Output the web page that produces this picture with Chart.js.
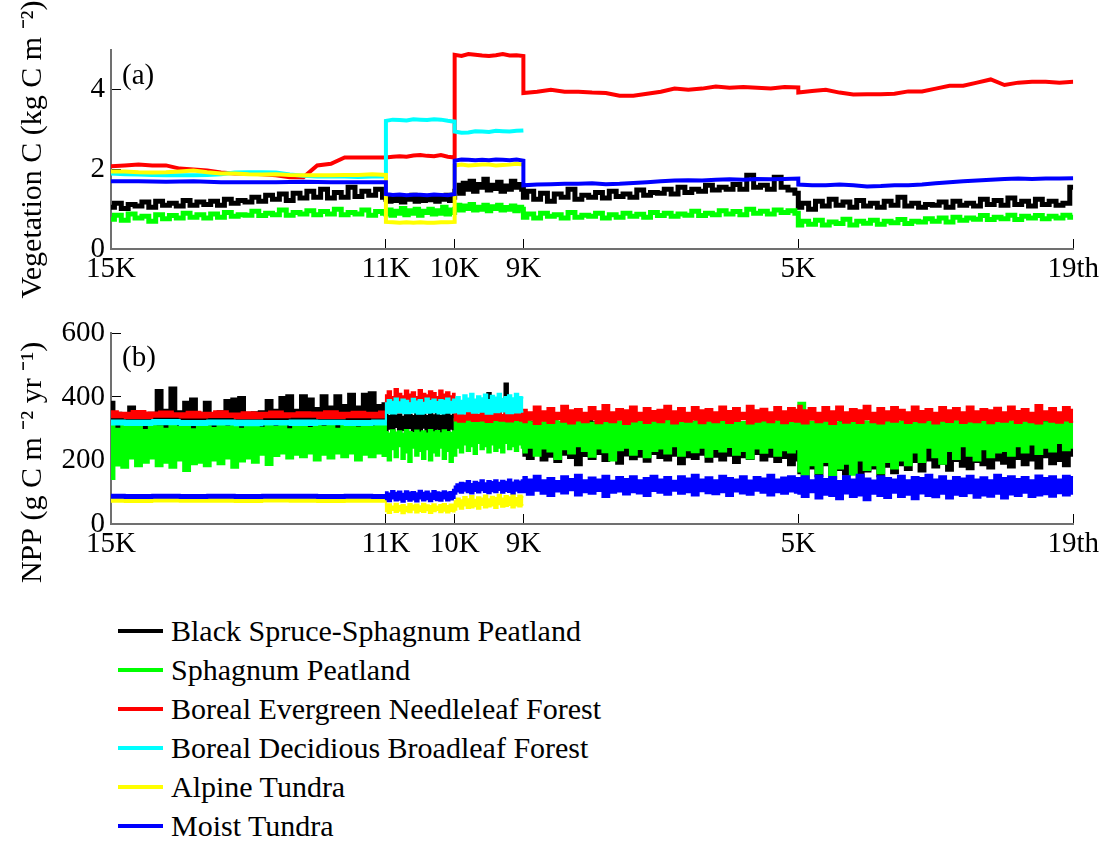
<!DOCTYPE html>
<html>
<head>
<meta charset="utf-8">
<script src="https://cdn.jsdelivr.net/npm/chart.js@4.4.0/dist/chart.umd.min.js"></script>
<style>
html,body{margin:0;padding:0;background:#fff;}
#wrap{position:relative;width:1112px;height:845px;overflow:hidden;font-family:'Liberation Serif','Times New Roman',serif;}
#ca{position:absolute;left:0;top:0;}
#cb{position:absolute;left:0;top:300px;}
#legend{position:absolute;left:118px;top:611px;}
.row{display:flex;align-items:center;height:39px;font-size:30px;line-height:39px;color:#000;white-space:nowrap;}
.sw{width:45px;height:4px;margin-right:8px;}
</style>
</head>
<body>
<div id="wrap">
<canvas id="ca" width="1112" height="300"></canvas>
<canvas id="cb" width="1112" height="300"></canvas>
<div id="legend"></div>
</div>
<script>
// ---------- labels / ticks ----------
const seriesNames = ['Black Spruce-Sphagnum Peatland','Sphagnum Peatland','Boreal Evergreen Needleleaf Forest','Boreal Decidious Broadleaf Forest','Alpine Tundra','Moist Tundra'];
const seriesColors = ['#000000','#00ff00','#ff0000','#00ffff','#ffff00','#0000ff'];
const eraBounds = [15, 11, 10, 9, 5, 1];          // kyr BP, era boundaries
const xTickValues = [15, 11, 10, 9, 5, 1];
const xTickLabels = ['15K','11K','10K','9K','5K','19th'];
const vegTicks = [0, 2, 4];
const nppTicks = [0, 200, 400, 600];
const vegTitle = 'Vegetation C (kg C m \u207B\u00B2)';
const nppTitle = 'NPP (g C m \u207B\u00B2 yr \u207B\u00B9)         ';

// ---------- (a) Vegetation C, kg C m-2 : one array per era (15-11K, 11-10K, 10-9K, 9-5K, 5K-19th) ----------
const vegBlack = [
 [1.05,1.15,1.02,1.12,1.08,1.18,1.05,1.2,1.1,1.15, 1.08,1.22,1.1,1.18,1.12,1.2,1.1,1.25,1.15,1.22, 1.18,1.3,1.2,1.35,1.25,1.38,1.22,1.4,1.28,1.45, 1.3,1.5,1.28,1.42,1.3,1.55,1.32,1.45,1.35,1.5,1.3],
 [1.25,1.2,1.32,1.22,1.28,1.18,1.3,1.25,1.35,1.2,1.28,1.22,1.3,1.24,1.33,1.2,1.28,1.25,1.35,1.22,1.3],
 [1.45,1.6,1.4,1.65,1.5,1.7,1.45,1.62,1.55,1.75,1.48,1.6,1.52,1.68,1.45,1.58,1.5,1.7,1.55,1.62,1.5],
 [1.3,1.45,1.25,1.4,1.2,1.38,1.3,1.5,1.25,1.35, 1.3,1.42,1.28,1.45,1.32,1.38,1.3,1.48,1.35,1.42, 1.4,1.5,1.38,1.55,1.42,1.5,1.45,1.6,1.48,1.55, 1.5,1.62,1.5,1.85,1.55,1.6,1.5,1.8,1.55,1.48,1.4],
 [1.05,1.15,1.0,1.2,1.08,1.25,1.1,1.18,1.05,1.22, 1.08,1.15,1.05,1.2,1.1,1.3,1.08,1.15,1.05,1.12, 1.1,1.18,1.05,1.2,1.1,1.15,1.08,1.25,1.12,1.22, 1.1,1.28,1.12,1.2,1.08,1.25,1.12,1.2,1.1,1.15,1.55]
];
const vegGreen = [
 [0.75,0.85,0.72,0.88,0.78,0.82,0.7,0.86,0.76,0.84, 0.78,0.9,0.8,0.86,0.78,0.88,0.8,0.92,0.82,0.86, 0.85,0.95,0.84,0.9,0.86,0.98,0.85,0.92,0.88,0.96, 0.86,0.94,0.88,1.0,0.86,0.92,0.88,0.98,0.85,0.94,0.9],
 [0.88,0.98,0.85,0.95,0.9,1.02,0.86,0.96,0.9,1.0,0.85,0.95,0.92,1.0,0.88,0.96,0.9,1.05,0.88,0.98,0.92],
 [1.0,1.1,0.98,1.08,1.02,1.12,0.98,1.05,1.0,1.1,0.96,1.06,1.02,1.1,0.98,1.04,1.0,1.08,0.96,1.05,1.0],
 [0.8,0.88,0.78,0.9,0.82,0.86,0.78,0.92,0.8,0.85, 0.82,0.9,0.78,0.86,0.8,0.9,0.82,0.87,0.8,0.92, 0.84,0.9,0.82,0.88,0.85,0.95,0.84,0.9,0.86,0.96, 0.88,0.94,0.86,1.0,0.9,0.95,0.88,0.98,0.92,0.96,0.9],
 [0.6,0.7,0.62,0.72,0.6,0.68,0.64,0.75,0.6,0.7, 0.65,0.72,0.62,0.7,0.66,0.74,0.64,0.7,0.68,0.76, 0.7,0.78,0.68,0.8,0.72,0.78,0.75,0.84,0.74,0.8, 0.76,0.85,0.74,0.82,0.78,0.84,0.76,0.82,0.78,0.85,0.8]
];
const vegRed = [
 [2.08,2.1,2.12,2.1,2.1,2.02,2.0,1.97,1.92,1.9,1.9,1.88,1.85,1.8,1.8,2.1,2.14,2.3,2.3,2.3,2.3],
 [2.3,2.32,2.33,2.32,2.35,2.36,2.34,2.33,2.36,2.32,2.3],
 [4.88,4.85,4.9,4.88,4.86,4.85,4.87,4.9,4.86,4.87,4.85],
 [3.92,3.95,4.0,3.95,3.95,3.93,3.92,3.85,3.85,3.9,3.95,4.03,4.0,4.03,4.08,4.05,4.07,4.05,4.03,4.07,4.06],
 [3.93,3.97,4.0,3.93,3.88,3.89,3.89,3.9,3.96,3.96,4.03,4.1,4.1,4.18,4.26,4.12,4.18,4.2,4.2,4.18,4.2]
];
const vegCyan = [
 [1.9,1.88,1.87,1.86,1.85,1.85,1.85,1.86,1.88,1.92,1.93,1.93,1.92,1.87,1.84,1.82,1.82,1.82,1.81,1.82,1.82],
 [3.22,3.25,3.24,3.23,3.26,3.25,3.24,3.26,3.25,3.22,3.2],
 [2.95,2.92,2.93,2.96,2.95,2.94,2.97,2.96,2.95,2.97,2.98],
 null,
 null
];
const vegYellow = [
 [1.95,1.95,1.93,1.92,1.93,1.95,1.97,1.93,1.9,1.9,1.88,1.87,1.88,1.86,1.85,1.85,1.85,1.86,1.86,1.88,1.86],
 [0.68,0.67,0.66,0.67,0.66,0.67,0.66,0.66,0.67,0.67,0.68],
 [2.1,2.12,2.1,2.11,2.12,2.12,2.1,2.11,2.12,2.14,2.12],
 null,
 null
];
const vegBlue = [
 [1.7,1.7,1.69,1.7,1.68,1.68,1.68,1.69,1.68,1.68,1.68],
 [1.38,1.36,1.37,1.35,1.36,1.36,1.35,1.37,1.36,1.35,1.38],
 [2.22,2.25,2.24,2.23,2.24,2.23,2.25,2.24,2.23,2.25,2.22],
 [1.6,1.62,1.63,1.64,1.64,1.65,1.63,1.64,1.66,1.68,1.7,1.72,1.73,1.72,1.74,1.75,1.74,1.76,1.75,1.76,1.77],
 [1.62,1.6,1.6,1.62,1.6,1.57,1.58,1.6,1.6,1.62,1.65,1.68,1.7,1.72,1.74,1.76,1.77,1.76,1.77,1.77,1.78]
];

// ---------- (b) NPP, g C m-2 yr-1 : upper and lower edge of each noisy band, per era ----------
const nppBlackHi = [
 [385,350,345,370,345,348,350,422,360,430, 355,385,395,350,385,348,355,390,395,400, 350,352,355,390,360,400,405,360,405,395, 365,405,370,405,375,410,370,410,415,375,380],
 [345,340,348,342,345,338,346,344,340,347,343,345,340,348,342,346,340,344,347,341,345],
 [335,338,332,340,336,345,338,340,336,338,412,340,335,338,340,442,336,342,338,335,340],
 [322,318,325,320,318,322,320,324,319,321,320],
 [320,318,322,319,321,320,323,318,320,322,321]
];
const nppBlackLo = [
 [295,285,300,290,283,296,288,292,285,298, 290,286,295,283,292,300,288,294,286,296, 290,292,285,298,290,288,295,286,292,290, 296,288,294,285,292,290,297,288,294,290,292],
 [292,300,288,305,290,296,285,302,291,298,287,303,290,295,286,300,289,297,292,300,295],
 [265,270,262,268,265,270,264,268,266,270,268],
 [215,205,220,200,212,195,218,208,185,214, 205,220,198,210,190,216,204,212,196,220, 208,200,215,188,210,205,218,196,212,200, 215,192,210,205,220,200,212,195,208,185,200],
 [160,140,175,150,185,135,170,155,180,145, 165,175,150,180,160,185,170,195,165,200, 178,190,168,198,180,172,195,185,175,200, 190,178,205,185,200,175,210,188,198,182,215]
];
const nppGreenHi = [
 [310,300,315,305,312,296,316,308,300,314, 305,312,298,315,308,302,316,306,312,300, 314,308,303,316,305,312,298,314,307,302, 315,306,312,300,316,308,304,314,306,312,310],
 [290,285,295,288,292,284,296,290,286,294,288,292,285,296,289,293,286,295,290,287,292],
 [330,325,332,328,326,333,327,330,325,332,328,331,326,330,327,333,325,330,328,331,329],
 [325,320,328,322,326,319,327,323,325,321,328,324,320,326,322,327,321,325,323,326,324],
 [382,322,327,320,326,323,328,321,325,320,327,324,322,326,321,328,323,325,320,326,324]
];
const nppGreenLo = [
 [142,184,177,206,182,193,206,182,193,177, 200,167,188,193,182,200,188,206,177,197, 206,193,218,186,214,222,206,218,210,222, 200,218,206,222,210,222,200,218,210,222,214],
 [220,200,235,210,245,205,225,195,240,215,230,205,235,200,225,215,240,205,230,195,215],
 [215,240,225,250,230,245,220,255,235,245,225,250,230,240,225,255,235,245,230,250,240],
 [225,240,215,238,228,205,235,222,245,230, 212,238,226,200,232,240,218,236,210,230, 238,222,245,215,232,226,240,212,236,228, 242,218,230,206,238,224,240,215,232,225,235],
 [165,150,185,160,195,145,175,190,155,200, 170,185,160,195,175,200,185,225,195,240, 210,190,230,205,245,215,200,235,210,225, 230,215,245,225,250,220,240,228,255,232,240]
];
const nppRedHi = [
 [355,350,356,351,354,349,353,350,355,348,352,350,354,349,352,351,355,350,353,350,354],
 [405,418,400,425,410,402,420,408,415,400,422,410,405,418,412,400,420,408,415,402,410],
 [350,345,358,342,352,348,355,344,350,356,346,352,348,355,343,350,357,347,352,348,355],
 [360,352,370,355,365,350,372,358,362,350, 368,355,375,352,362,358,370,350,365,356, 360,372,355,365,350,368,358,362,352,370, 356,365,350,372,358,363,352,368,355,365,360],
 [372,358,365,350,368,355,370,352,362,358, 372,350,365,355,368,360,352,370,356,362, 350,368,358,365,352,370,355,362,358,366, 352,370,356,362,350,375,355,365,352,368,360]
];
const nppRedLo = [
 [336,334,338,335,337,333,336,338,334,336,335],
 [385,388,384,386,385,388,383,386,385,387,385],
 [326,322,328,324,326,321,327,325,323,327,325],
 [320,328,315,325,318,330,322,316,326,320, 329,317,324,320,328,315,323,327,318,325, 320,330,316,324,322,328,317,325,320,327, 318,324,330,316,322,326,320,328,317,324,322],
 [322,316,328,320,325,315,327,319,324,318, 330,320,316,326,322,328,318,324,320,327, 316,325,321,329,318,323,320,327,317,324, 322,328,318,325,320,316,327,322,319,326,321]
];
const nppCyanHi = [
 [326,325,327,324,326,325,324,326,325,324,326],
 [380,390,385,395,383,392,388,380,394,386,390,382,395,387,392,384,390,388,395,385,392],
 [390,400,388,405,395,410,392,402,396,408,390,404,398,410,394,400,405,396,410,400,398],
 null,
 null
];
const nppCyanLo = [
 [313,312,314,312,313,311,313,312,314,312,313],
 [350,348,352,349,351,347,350,352,348,350,351],
 [352,348,355,350,353,347,352,354,349,351,353],
 null,
 null
];
const nppYellowHi = [
 [79,78,80,78,79,78,79,80,78,79,78],
 [58,62,55,64,57,60,54,63,58,61,56,64,59,57,62,55,60,63,57,61,59],
 [72,80,75,85,78,88,76,84,80,90,78,86,82,92,80,88,84,93,82,90,86],
 null,
 null
];
const nppYellowLo = [
 [70,69,71,70,70,69,71,70,69,70,70],
 [40,35,44,38,42,34,40,37,45,36,41,38,43,35,40,44,37,42,36,41,39],
 [45,55,48,58,50,52,56,48,60,52,55,58,50,62,54,57,60,52,58,55,60],
 null,
 null
];
const nppBlueHi = [
 [92,91,92,91,92,91,92,92,91,92,91],
 [100,96,104,98,102,95,103,99,101,97,105,98,102,96,104,100,98,103,99,101,108],
 [118,125,130,128,135,126,133,130,138,128,135,132,138,130,136,133,140,131,137,134,138],
 [148,140,152,138,145,135,150,142,155,138, 146,140,152,136,148,142,150,138,145,152, 140,148,136,150,143,155,140,147,138,152, 145,140,150,137,148,143,155,140,146,150,145],
 [145,150,138,152,142,148,135,150,140,155, 143,137,150,145,140,152,138,148,145,155, 140,150,136,148,143,152,140,147,138,155, 145,150,142,148,138,153,145,150,140,152,148]
];
const nppBlueLo = [
 [83,82,83,82,83,82,83,83,82,83,82],
 [78,72,80,74,76,70,79,73,77,71,80,74,78,72,79,75,73,80,74,77,82],
 [95,102,98,105,100,96,104,99,106,101,97,103,100,107,98,104,101,96,105,100,103],
 [100,92,105,95,88,102,96,106,90,100, 95,104,85,98,102,93,100,96,88,104, 98,92,105,95,100,90,103,97,94,100, 88,102,96,92,105,98,90,100,95,102,98],
 [95,85,100,80,92,88,78,96,85,90, 75,95,88,82,98,85,92,78,96,88, 84,95,80,92,88,97,83,90,86,95, 80,93,88,98,85,90,94,86,97,90,95]
];

// ---------- build ----------
const FONT = "'Liberation Serif', 'Times New Roman', serif";
const vegSeries = [vegBlack, vegGreen, vegRed, vegCyan, vegYellow, vegBlue];
const vegNoisy = [true, true, false, false, false, false];
const nppHi = [nppBlackHi, nppGreenHi, nppRedHi, nppCyanHi, nppYellowHi, nppBlueHi];
const nppLo = [nppBlackLo, nppGreenLo, nppRedLo, nppCyanLo, nppYellowLo, nppBlueLo];

// spread each era's samples evenly over that era (time grid only)
function toPoints(segs) {
  const pts = [];
  segs.forEach((seg, e) => {
    if (!seg) return;
    const a = eraBounds[e], b = eraBounds[e + 1];
    seg.forEach((v, j) => pts.push({ x: a + (b - a) * j / (seg.length - 1), y: v }));
  });
  return pts;
}

function panelLabel(text, dy) {
  return {
    id: 'panelLabel',
    afterDraw(chart) {
      const { ctx, chartArea } = chart;
      ctx.save();
      ctx.font = '29px ' + FONT;
      ctx.fillStyle = '#000';
      ctx.textBaseline = 'alphabetic';
      ctx.textAlign = 'left';
      ctx.fillText(text, chartArea.left + 11, chartArea.top + dy);
      ctx.restore();
    }
  };
}

const gridOpts = { drawOnChartArea: false, drawTicks: true, tickLength: -10, color: '#000', lineWidth: 1 };
const borderOpts = { display: true, color: '#707070', width: 2 };

function makeChart(canvas, datasets, yMax, yTicks, yTitle, padTop, xHeight, label, labelDy) {
  return new Chart(canvas, {
    type: 'line',
    data: { datasets },
    options: {
      responsive: false,
      animation: false,
      devicePixelRatio: 1,
      layout: { padding: { top: padTop, right: 35, left: 0, bottom: 0 } },
      plugins: { legend: { display: false }, tooltip: { enabled: false } },
      elements: { point: { radius: 0 }, line: { tension: 0, borderJoinStyle: 'miter', borderCapStyle: 'butt' } },
      scales: {
        x: {
          type: 'linear', reverse: true, min: 1, max: 15,
          afterBuildTicks: s => { s.ticks = xTickValues.map(v => ({ value: v })); },
          ticks: {
            autoSkip: false, maxRotation: 0, padding: 13, color: '#000',
            font: { family: FONT, size: 29 },
            callback: (v, i) => xTickLabels[i]
          },
          grid: gridOpts, border: borderOpts,
          afterFit: s => { s.height = xHeight; }
        },
        y: {
          type: 'linear', min: 0, max: yMax,
          afterBuildTicks: s => { s.ticks = yTicks.map(v => ({ value: v })); },
          ticks: { padding: 16, color: '#000', font: { family: FONT, size: 29 } },
          grid: gridOpts, border: borderOpts,
          title: { display: true, text: yTitle, color: '#000', font: { family: FONT, size: 30 }, padding: { top: 15, bottom: 0 } },
          afterFit: s => { s.width = 111; }
        }
      }
    },
    plugins: [panelLabel(label, labelDy)]
  });
}

// panel (a)
const vegDatasets = vegSeries.map((segs, s) => ({
  label: seriesNames[s],
  data: toPoints(segs),
  borderColor: seriesColors[s],
  backgroundColor: seriesColors[s],
  borderWidth: vegNoisy[s] ? 5 : 4,
  stepped: vegNoisy[s] ? 'middle' : false,
  fill: false,
  order: 5 - s
}));
makeChart(document.getElementById('ca'), vegDatasets, 5, vegTicks, vegTitle, 50, 51, '(a)', 34);

// panel (b)
const nppDatasets = [];
seriesNames.forEach((name, s) => {
  nppDatasets.push({
    label: name, data: toPoints(nppHi[s]),
    borderColor: seriesColors[s], backgroundColor: seriesColors[s],
    borderWidth: 2, stepped: 'middle', fill: '+1', order: 5 - s
  });
  nppDatasets.push({
    label: name + ' (low)', data: toPoints(nppLo[s]),
    borderColor: seriesColors[s], backgroundColor: seriesColors[s],
    borderWidth: 2, stepped: 'middle', fill: false, order: 5 - s
  });
});
makeChart(document.getElementById('cb'), nppDatasets, 600, nppTicks, nppTitle, 26, 76, '(b)', 33);

// legend
const legend = document.getElementById('legend');
seriesNames.forEach((name, s) => {
  const row = document.createElement('div');
  row.className = 'row';
  const sw = document.createElement('div');
  sw.className = 'sw';
  sw.style.background = seriesColors[s];
  const tx = document.createElement('span');
  tx.textContent = name;
  row.appendChild(sw);
  row.appendChild(tx);
  legend.appendChild(row);
});
</script>
</body>
</html>
